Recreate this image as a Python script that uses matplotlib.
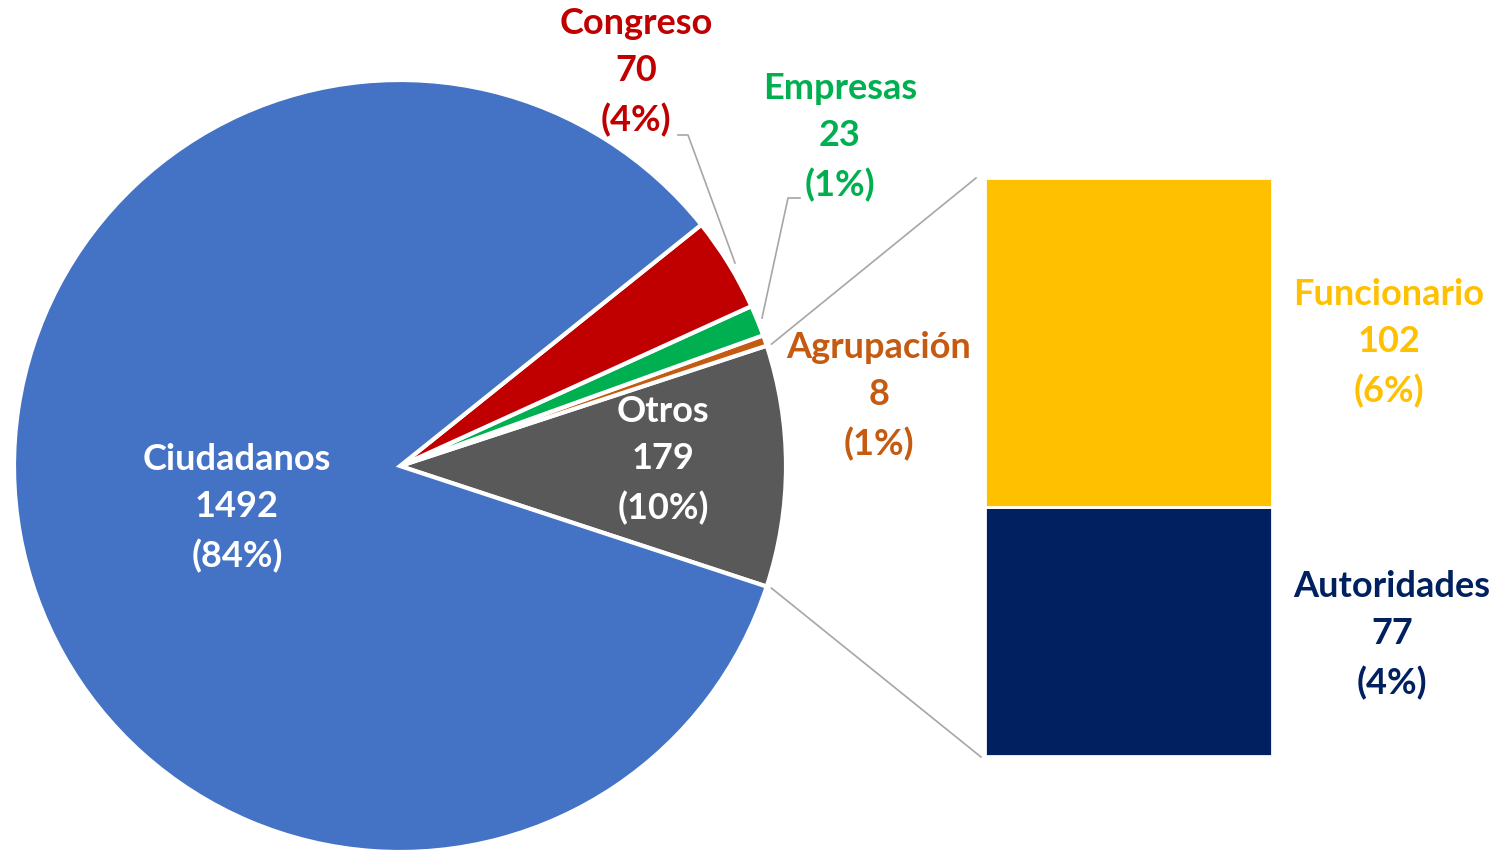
import numpy as np
import matplotlib
matplotlib.use("Agg")
import matplotlib.pyplot as plt

# Data
pie_labels = ["Otros", "Agrupación", "Empresas", "Congreso", "Ciudadanos"]
pie_values = [179, 8, 23, 70, 1492]
pie_pcts = ["10%", "1%", "1%", "4%", "84%"]
pie_colors = ["#595959", "#C55A11", "#00B050", "#C00000", "#4472C4"]

bar_labels = ["Autoridades", "Funcionario"]
bar_values = [77, 102]
bar_pcts = ["4%", "6%"]
bar_colors = ["#002060", "#FFC000"]

W, H = 1508, 852
fig = plt.figure(figsize=(W / 100, H / 100), dpi=100)
plt.rcParams['font.family'] = ['Lato', 'DejaVu Sans']

ax = fig.add_axes([0, 0, 1, 1])
ax.set_xlim(0, W)
ax.set_ylim(0, H)
ax.set_aspect('equal')
ax.axis('off')

cx, cy, R = 400, H - 466, 386
wedges, _ = ax.pie(pie_values, colors=pie_colors, startangle=-18.2, counterclock=True,
                   center=(cx, cy), radius=R, frame=True,
                   wedgeprops=dict(edgecolor='white', linewidth=3))
ax.set_xlim(0, W)
ax.set_ylim(0, H)
ax.axis('off')

FS = 26
def label(x, y, lines, color):
    ax.text(x, H - y, "\n".join(lines), ha='center', va='center', color=color,
            fontsize=FS, fontweight='bold', linespacing=1.55)

for name, v, p, col, pos in zip(pie_labels, pie_values, pie_pcts, pie_colors,
                                [(663, 460), (879, 396), (840, 137), (636, 72), (237, 508)]):
    c = 'white' if name in ("Otros", "Ciudadanos") else col
    label(pos[0], pos[1], [name, str(v), f"({p})"], c)

# leader lines
ax.plot([678, 688, 735], [H - 135, H - 135, H - 263], color='#A6A6A6', lw=1.2)
ax.plot([800, 788, 762], [H - 198, H - 198, H - 318], color='#A6A6A6', lw=1.2)

# bar of pie
bl, bt, br, bb = 985, 178, 1272, 756
bax = fig.add_axes([bl / W, (H - bb) / H, (br - bl) / W, (bb - bt) / H])
bottom = 0
for v, col in zip(bar_values, bar_colors):
    bax.bar(0, v, bottom=bottom, width=1, color=col, edgecolor='white', linewidth=2)
    bottom += v
bax.set_xlim(-0.5, 0.5)
bax.set_ylim(0, sum(bar_values))
bax.axis('off')

label(1392, 635, [bar_labels[0], str(bar_values[0]), f"({bar_pcts[0]})"], bar_colors[0])
label(1389, 343, [bar_labels[1], str(bar_values[1]), f"({bar_pcts[1]})"], bar_colors[1])

# connectors from Otros wedge edges to bar corners
w0 = wedges[0]
for ang, (tx, ty) in [(w0.theta2, (976, 178)), (w0.theta1, (981, 757))]:
    a = np.deg2rad(ang)
    x0 = cx + (R + 5) * np.cos(a)
    y0 = cy + (R + 5) * np.sin(a)
    ax.plot([x0, tx], [y0, H - ty], color='#A6A6A6', lw=1.2)

fig.savefig("out.png", dpi=100)
